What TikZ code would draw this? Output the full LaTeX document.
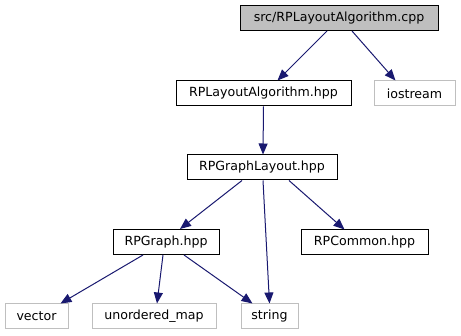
\documentclass[tikz,border=0pt]{standalone}
\usepackage{fontspec}
\setmainfont{DejaVu Sans}
\usetikzlibrary{arrows.meta}
\definecolor{edgeblue}{HTML}{191970}
\definecolor{extgray}{HTML}{BFBFBF}
\begin{document}
\begin{tikzpicture}[x=1pt,y=-1pt,
  file/.style={draw=black,line width=1pt,minimum height=25pt,inner sep=0pt,
    font=\fontsize{12.6}{14}\selectfont,text=black},
  mainfile/.style={file,fill=extgray},
  sysfile/.style={file,draw=extgray},
  edge/.style={draw=edgeblue,line width=1pt,
    -{Triangle[length=11pt,width=9pt]}}]
\useasboundingbox[fill=white] (0,0) rectangle (461,336);
% include-graph nodes
\node[mainfile,minimum width=198pt] (top) at (339,18) {src/RPLayoutAlgorithm.cpp};
\node[file,minimum width=175pt] (rpla) at (263.5,93.5) {RPLayoutAlgorithm.hpp};
\node[sysfile,minimum width=81pt] (iostream) at (414.5,93.5) {iostream};
\node[file,minimum width=150pt] (rpgl) at (262,167.5) {RPGraphLayout.hpp};
\node[file,minimum width=106pt] (rpgraph) at (166,242) {RPGraph.hpp};
\node[file,minimum width=127pt] (rpcommon) at (364.5,242.5) {RPCommon.hpp};
\node[sysfile,minimum width=63pt] (vector) at (36.5,316.5) {vector};
\node[sysfile,minimum width=124pt] (umap) at (154,316.5) {unordered\_map};
\node[sysfile,minimum width=57pt] (string) at (269.5,316.5) {string};
% include edges
\draw[edge] ([xshift=-12pt]top.south) -- ([xshift=14pt]rpla.north);
\draw[edge] ([xshift=13pt]top.south) -- ([xshift=-19pt]iostream.north);
\draw[edge] (rpla.south) -- ([xshift=1pt]rpgl.north);
\draw[edge] ([xshift=-20pt]rpgl.south) -- ([xshift=14pt]rpgraph.north);
\draw[edge] ([xshift=1pt]rpgl.south) -- (string.north);
\draw[edge] ([xshift=27pt]rpgl.south) -- ([xshift=-20pt]rpcommon.north);
\draw[edge] ([xshift=-23pt]rpgraph.south) -- ([xshift=24pt]vector.north);
\draw[edge] ([xshift=-3pt]rpgraph.south) -- ([xshift=3pt]umap.north);
\draw[edge] ([xshift=18pt]rpgraph.south) -- ([xshift=-17pt]string.north);
\end{tikzpicture}
\end{document}
